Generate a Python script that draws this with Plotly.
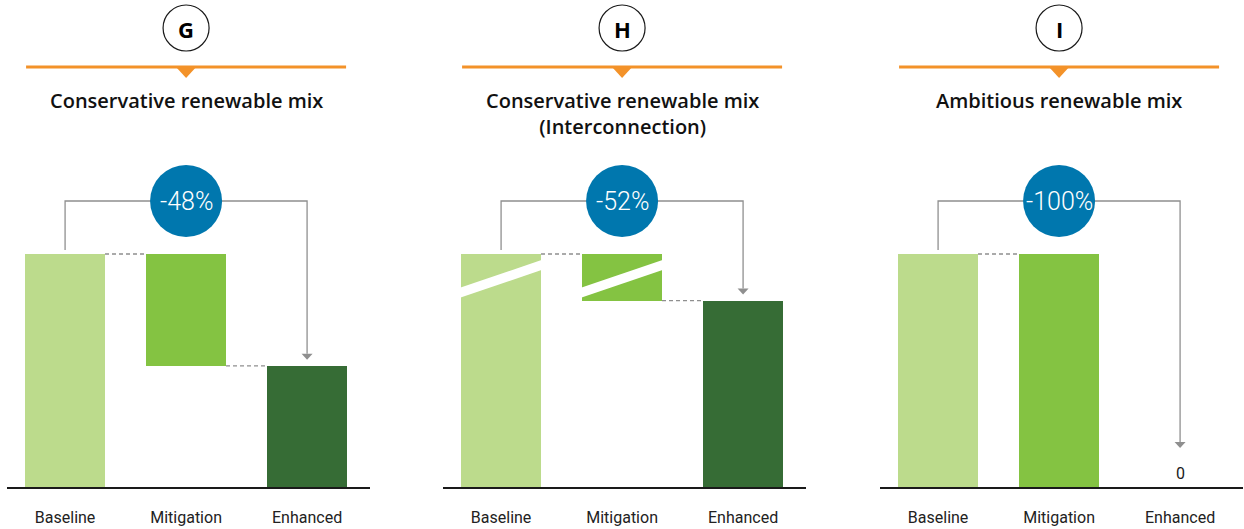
import plotly.graph_objects as go

# ---- data -------------------------------------------------------------
CATEGORIES = ["Baseline", "Mitigation", "Enhanced"]
PANEL_LETTERS = ["G", "H", "I"]
PANEL_TITLES = [
    "Conservative renewable mix",
    "Conservative renewable mix<br>(Interconnection)",
    "Ambitious renewable mix",
]
BASELINE = [100, 100, 100]
MITIGATION = [-48, -52, -100]
ENHANCED = [52, 48, 0]

# panel H is drawn with a broken axis: the band BREAK_LO..BREAK_LO+BREAK_GAP is cut out
BREAK_PANEL = 1
BREAK_LO = 50
BREAK_GAP = 40

# ---- styling ----------------------------------------------------------
BAR_COLORS = ["#BCDB8C", "#84C342", "#366C35"]
ORANGE = "#F39229"
BLUE = "#0077AE"
GREY = "#8F8F8F"
INK = "#1A1A1A"
FONT = "Roboto"
TITLE_FONT = "Open Sans"

W, H = 1244, 529
AXIS_Y_PX = 487            # y pixel of the category axis line
AXIS_LEFT_PX = [7, 443, 880]
AXIS_LEN_PX = 363
X_RANGE = [-0.48, 2.52]
BAR_WIDTH = 0.66
BASE_BAR_PX = 233          # drawn height of each baseline bar
PX_PER_CAT = AXIS_LEN_PX / (X_RANGE[1] - X_RANGE[0])


def shown(p, v):
    """Value on the drawn scale (applies the axis break of panel H)."""
    if p == BREAK_PANEL and v > BREAK_LO:
        return max(BREAK_LO, v - BREAK_GAP)
    return v


def y_top(p):
    return shown(p, BASELINE[p]) * AXIS_Y_PX / BASE_BAR_PX


def upp(p):
    """data units per pixel on the y axis of panel p"""
    return y_top(p) / AXIS_Y_PX


def px(x):
    return x / W


def py(y):
    return 1 - y / H


fig = go.Figure()
shapes = []
annotations = []

for p in range(3):
    sfx = "" if p == 0 else str(p + 1)
    xref, yref = "x" + sfx, "y" + sfx
    b = shown(p, BASELINE[p])
    e = shown(p, ENHANCED[p])
    u = upp(p)
    cu = 1 / PX_PER_CAT

    # waterfall: baseline, floating mitigation step, enhanced result
    fig.add_trace(go.Bar(
        x=CATEGORIES,
        y=[b, e - b, e],
        base=[0, b, 0],
        width=BAR_WIDTH,
        marker=dict(color=BAR_COLORS, line=dict(width=0)),
        hoverinfo="skip",
        showlegend=False,
        xaxis=xref, yaxis=yref,
    ))

    # dashed connectors between bars
    shapes.append(dict(type="line", xref=xref, yref=yref,
                       x0=BAR_WIDTH / 2, x1=1 - BAR_WIDTH / 2, y0=b, y1=b,
                       line=dict(color=GREY, width=1.3, dash="4px,3px")))
    if ENHANCED[p] > 0:
        shapes.append(dict(type="line", xref=xref, yref=yref,
                           x0=1 + BAR_WIDTH / 2, x1=2 - BAR_WIDTH / 2, y0=e, y1=e,
                           line=dict(color=GREY, width=1.3, dash="4px,3px")))

    # break marks across bars that straddle the cut
    if p == BREAK_PANEL:
        for i, (lo, hi) in enumerate([(0, b), (e, b)]):
            if lo < BREAK_LO < hi:
                x0 = i - BAR_WIDTH / 2 - 0.01
                x1 = i + BAR_WIDTH / 2 + 0.01
                yl, rise, half = BREAK_LO, 28 * u, 5 * u
                path = (f"M{x0},{yl - half} L{x1},{yl - half + rise} "
                        f"L{x1},{yl + half + rise} L{x0},{yl + half} Z")
                shapes.append(dict(type="path", xref=xref, yref=yref, path=path,
                                   fillcolor="white", line=dict(width=0)))

    # bracket arrow from baseline to enhanced
    y_start = b + 4 * u
    y_br = b + 53 * u
    gap = 6 if ENHANCED[p] > 0 else 39
    y_tip = e + gap * u
    ah = 6 * u
    path = f"M0,{y_start} L0,{y_br} L2,{y_br} L2,{y_tip + ah}"
    shapes.append(dict(type="path", xref=xref, yref=yref, path=path,
                       line=dict(color=GREY, width=1.3)))
    shapes.append(dict(type="path", xref=xref, yref=yref,
                       path=f"M{2 - 5.5 * cu},{y_tip + ah} L{2 + 5.5 * cu},{y_tip + ah} L2,{y_tip} Z",
                       fillcolor=GREY, line=dict(width=0)))

    # blue bubble with percentage change
    r = 36
    shapes.append(dict(type="circle", xref=xref, yref=yref,
                       x0=1 - r * cu, x1=1 + r * cu, y0=y_br - r * u, y1=y_br + r * u,
                       fillcolor=BLUE, line=dict(width=0)))
    pct = round(MITIGATION[p] / BASELINE[p] * 100)
    annotations.append(dict(xref=xref, yref=yref, x=1, y=y_br, text=f"{pct}%",
                            showarrow=False, xanchor="center", yanchor="middle",
                            font=dict(family=FONT, size=25, color="white", weight=300)))

    if ENHANCED[p] == 0:
        annotations.append(dict(xref=xref, yref=yref, x=2, y=e, text=str(ENHANCED[p]),
                                showarrow=False, yanchor="bottom", yshift=2,
                                font=dict(family=FONT, size=16, color=INK)))

    # panel header: letter badge, orange rule with pointer, title
    cx = AXIS_LEFT_PX[p] + (1 - X_RANGE[0]) * PX_PER_CAT
    shapes.append(dict(type="circle", xref="paper", yref="paper",
                       x0=px(cx - 23), x1=px(cx + 23), y0=py(51), y1=py(5),
                       fillcolor="white", line=dict(color=INK, width=1.2)))
    annotations.append(dict(xref="paper", yref="paper", x=px(cx), y=py(29),
                            text=f"<b>{PANEL_LETTERS[p]}</b>", showarrow=False,
                            xanchor="center", yanchor="middle",
                            font=dict(family=TITLE_FONT, size=22, color="#000")))
    shapes.append(dict(type="line", xref="paper", yref="paper",
                       x0=px(cx - 160), x1=px(cx + 160), y0=py(67), y1=py(67),
                       line=dict(color=ORANGE, width=3)))
    shapes.append(dict(type="path", xref="paper", yref="paper",
                       path=f"M{px(cx - 11)},{py(66)} L{px(cx + 11)},{py(66)} L{px(cx)},{py(78)} Z",
                       fillcolor=ORANGE, line=dict(width=0)))
    annotations.append(dict(xref="paper", yref="paper", x=px(cx), y=py(85),
                            text=PANEL_TITLES[p], showarrow=False,
                            xanchor="center", yanchor="top",
                            font=dict(family=TITLE_FONT, size=20, color="#111", weight=600)))

    xl = AXIS_LEFT_PX[p]
    fig.update_layout(**{
        "xaxis" + sfx: dict(domain=[px(xl), px(xl + AXIS_LEN_PX)], range=X_RANGE,
                            type="category", showgrid=False, zeroline=False,
                            showline=True, linecolor=INK, linewidth=2,
                            ticks="", ticklabelstandoff=15, automargin=False,
                            tickfont=dict(family=FONT, size=16, color="#222"),
                            fixedrange=True),
        "yaxis" + sfx: dict(domain=[1 - AXIS_Y_PX / H, 1], range=[0, y_top(p)],
                            visible=False, showgrid=False, zeroline=False,
                            fixedrange=True),
    })

fig.update_layout(
    width=W, height=H,
    margin=dict(l=0, r=0, t=0, b=0),
    paper_bgcolor="white", plot_bgcolor="white",
    bargap=0, shapes=shapes, annotations=annotations,
    font=dict(family=FONT),
)

fig.write_html("out.html", config={"displayModeBar": False})
